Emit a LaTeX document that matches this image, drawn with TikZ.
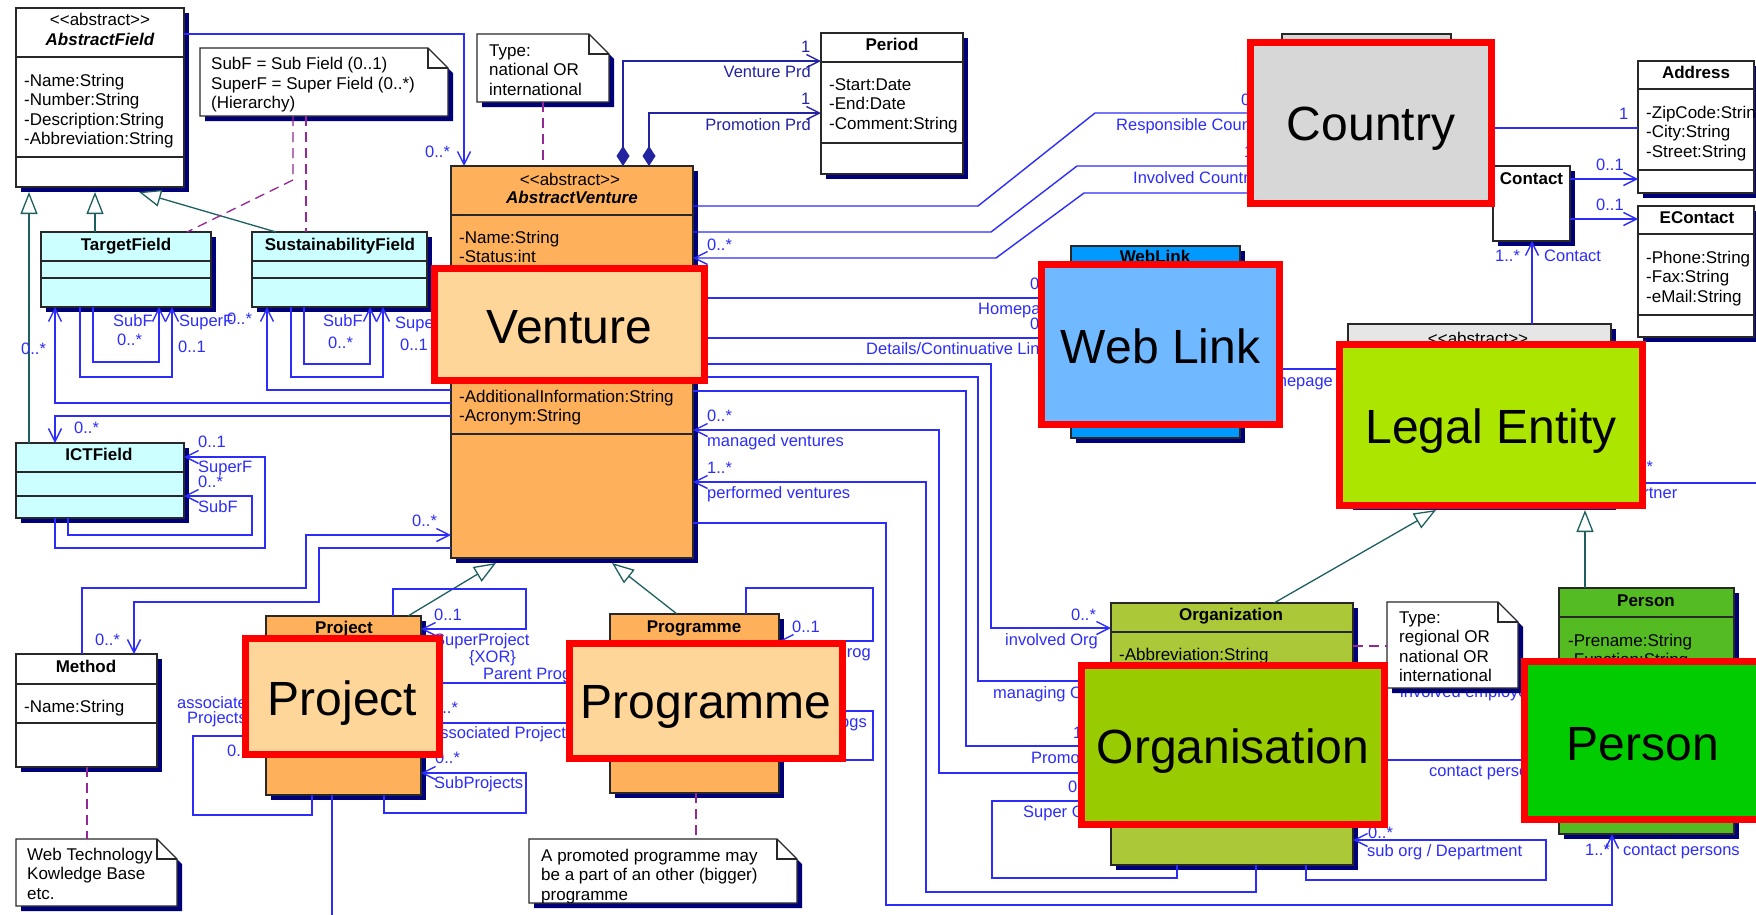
\documentclass[tikz,border=0pt]{standalone}
\usepackage{fontspec}
\setmainfont{Liberation Sans}
\usetikzlibrary{arrows.meta}
\definecolor{assoc}{RGB}{45,45,250}
\definecolor{assocd}{RGB}{35,35,160}
\definecolor{genc}{RGB}{30,95,95}
\definecolor{dep}{RGB}{150,40,150}
\definecolor{shad}{RGB}{0,0,120}
\definecolor{bline}{RGB}{40,40,40}
\definecolor{cyanf}{RGB}{204,255,255}
\definecolor{orangef}{RGB}{255,176,90}
\definecolor{venth}{RGB}{255,214,153}
\definecolor{orgf}{RGB}{170,200,55}
\definecolor{orgh}{RGB}{153,204,0}
\definecolor{persf}{RGB}{85,187,34}
\definecolor{persh}{RGB}{0,204,0}
\definecolor{legh}{RGB}{172,230,0}
\definecolor{legf}{RGB}{230,230,230}
\definecolor{webf}{RGB}{0,153,255}
\definecolor{webh}{RGB}{112,184,255}
\definecolor{ctryf}{RGB}{215,215,215}
\definecolor{hlred}{RGB}{255,0,0}
\tikzset{
 bx/.style={draw=bline, line width=1.2pt, inner sep=0pt, outer sep=0pt, anchor=north west},
 hl/.style={draw=hlred, line width=7pt, inner sep=0pt, outer sep=0pt, anchor=north west},
 cl/.style={draw=bline, line width=1.2pt},
 asc/.style={draw=assoc, line width=1.4pt},
 asd/.style={draw=assocd, line width=1.4pt},
 oa/.style={-{Straight Barb[length=13pt,width=13pt]}},
 dia/.style={{Diamond[length=20pt,width=13pt]}-{Straight Barb[length=13pt,width=13pt]}},
 gn/.style={draw=genc, line width=1.3pt, -{Triangle[length=22pt,width=17pt,fill=white]}},
 dp/.style={draw=dep, line width=1.3pt, dash pattern=on 10pt off 6pt},
 ttl/.style={font=\bfseries\fontsize{17}{20}\selectfont, anchor=base, inner sep=0pt},
 att/.style={font=\fontsize{17}{20}\selectfont, anchor=base west, inner sep=0pt},
 lb/.style={font=\fontsize{16.5}{19}\selectfont, text=assoc, anchor=base west, inner sep=0pt},
 lbr/.style={lb, anchor=base east},
 big/.style={font=\fontsize{48}{56}\selectfont, anchor=base, inner sep=0pt},
}
\newcommand\umlbox[6]{%
 \fill[shad] ({#2+5},{#3+5}) rectangle ({#4+5},{#5+5});
 \node[bx, fill=#6, minimum width={#4-#2}, minimum height={#5-#3}] (#1) at (#2,#3) {};
}
\newcommand\umlnote[5]{%
 \fill[shad] ({#2+5},{#3+5}) -- ({#4-15},{#3+5}) -- ({#4+5},{#3+25}) -- ({#4+5},{#5+5}) -- ({#2+5},{#5+5}) -- cycle;
 \draw[cl, fill=white] (#2,#3) -- ({#4-20},#3) -- (#4,{#3+20}) -- (#4,#5) -- (#2,#5) -- cycle;
 \draw[cl] ({#4-20},#3) -- ({#4-20},{#3+20}) -- (#4,{#3+20});
 \node[inner sep=0pt, outer sep=0pt, anchor=north west, minimum width={#4-#2}, minimum height={#5-#3}] (#1) at (#2,#3) {};
}
\newcommand\hlbox[8]{%
 \node[hl, fill=#6, minimum width={#4-#2-7}, minimum height={#5-#3-7}] (#1) at ({#2+3.5},{#3+3.5}) {};
 \node[big] at ({(#2+#4)/2},#8) {#7};
}
\newcommand\abstr{\textless\kern0pt\textless\kern0pt abstract\kern0pt\textgreater\kern0pt\textgreater}
\begin{document}
\begin{tikzpicture}[x=1pt,y=-1pt]
\useasboundingbox (0,0) rectangle (1756,914);
\fill[white] (0,0) rectangle (1756,914);

% ---------- UML boxes ----------
\umlbox{af}{16}{8}{184}{187}{white}
\draw[cl] (16,57) -- (184,57); \draw[cl] (16,157) -- (184,157);
\node[att, anchor=base] at (100,25) {\abstr};
\node[ttl, font=\bfseries\itshape\fontsize{17}{20}\selectfont] at (100,45) {AbstractField};
\node[att] at (24,86) {-Name:String};
\node[att] at (24,105.5) {-Number:String};
\node[att] at (24,125) {-Description:String};
\node[att] at (24,144.5) {-Abbreviation:String};

\umlbox{tf}{41}{232}{211}{307}{cyanf}
\draw[cl] (41,261) -- (211,261); \draw[cl] (41,278) -- (211,278);
\node[ttl] at (126,250) {TargetField};

\umlbox{sf}{252}{232}{427}{307}{cyanf}
\draw[cl] (252,261) -- (427,261); \draw[cl] (252,278) -- (427,278);
\node[ttl] at (340,250) {SustainabilityField};

\umlbox{ict}{16}{443}{184}{518}{cyanf}
\draw[cl] (16,472) -- (184,472); \draw[cl] (16,496) -- (184,496);
\node[ttl] at (99,460) {ICTField};

\umlbox{meth}{16}{654}{157}{767}{white}
\draw[cl] (16,684) -- (157,684); \draw[cl] (16,723) -- (157,723);
\node[ttl] at (86,672) {Method};
\node[att] at (24,712) {-Name:String};

\umlbox{av}{451}{166}{693}{558}{orangef}
\draw[cl] (451,215) -- (693,215); \draw[cl] (451,434) -- (693,434);
\node[att, anchor=base] at (570,185) {\abstr};
\node[ttl, font=\bfseries\itshape\fontsize{17}{20}\selectfont] at (572,203) {AbstractVenture};
\node[att] at (459,243) {-Name:String};
\node[att] at (459,262.5) {-Status:int};
\node[att] at (459,402) {-AdditionalInformation:String};
\node[att] at (459,421.5) {-Acronym:String};

\umlbox{per}{821}{33}{963}{174}{white}
\draw[cl] (821,62) -- (963,62); \draw[cl] (821,143) -- (963,143);
\node[ttl] at (892,50) {Period};
\node[att] at (829,90) {-Start:Date};
\node[att] at (829,109.5) {-End:Date};
\node[att] at (829,129) {-Comment:String};

\umlbox{ctry}{1282}{34}{1451}{202}{ctryf}

\umlbox{addr}{1638}{61}{1754}{193}{white}
\draw[cl] (1638,89) -- (1754,89); \draw[cl] (1638,170) -- (1754,170);
\node[ttl] at (1696,78) {Address};
\node[att] at (1646,118) {-ZipCode:String};
\node[att] at (1646,137.5) {-City:String};
\node[att] at (1646,157) {-Street:String};

\umlbox{cont}{1493}{166}{1570}{241}{white}
\node[ttl] at (1531.5,184) {Contact};

\umlbox{econ}{1638}{206}{1754}{337}{white}
\draw[cl] (1638,234) -- (1754,234); \draw[cl] (1638,315) -- (1754,315);
\node[ttl] at (1697,223) {EContact};
\node[att] at (1646,263) {-Phone:String};
\node[att] at (1646,282.5) {-Fax:String};
\node[att] at (1646,302) {-eMail:String};

\umlbox{wl}{1071}{246}{1240}{438}{webf}
\node[ttl] at (1155,262) {WebLink};

\umlbox{le}{1348}{324}{1611}{505}{legf}
\node[att, anchor=base] at (1478,344.5) {\abstr};

\umlbox{org}{1111}{603}{1353}{865}{orgf}
\draw[cl] (1111,632) -- (1353,632);
\node[ttl] at (1231,620) {Organization};
\node[att] at (1119,660) {-Abbreviation:String};

\umlbox{pers}{1559}{588}{1734}{834}{persf}
\draw[cl] (1559,617) -- (1734,617);
\node[ttl] at (1646,606) {Person};
\node[att] at (1568,646) {-Prename:String};
\node[att] at (1568,665.5) {-Function:String};

\umlbox{proj}{266}{616}{421}{795}{orangef}
\node[ttl] at (344,633) {Project};

\umlbox{prog}{610}{614}{779}{793}{orangef}
\node[ttl] at (694,632) {Programme};

% ---------- generalizations ----------
\draw[gn] (tf.north -| 95,0) -- (95,192);
\draw[gn] (ict.north -| 29,0) -- (29,192);
\draw[gn] (sf.north -| 276,0) -- (139,192);
\draw[gn] (proj.north -| 408,0) -- (496,563);
\draw[gn] (prog.north -| 677,0) -- (612,563);
\draw[gn] (org.north -| 1274,0) -- (1436,510);
\draw[gn] (pers.north -| 1585,0) -- (1585,510);

% ---------- associations ----------
\draw[asc,oa] (af.east |- 0,34) -| (av.north -| 464,0);
\draw[asc,oa] (av.west |- 0,390) -| (sf.south -| 267,0);
\draw[asc,oa] (av.west |- 0,403) -| (tf.south -| 55,0);
\draw[asc,oa] (av.west |- 0,416) -| (ict.north -| 55,0);
\draw[asc,oa] (tf.south -| 93,0) |- (159,362) -- (tf.south -| 159,0);
\draw[asc,oa] (tf.south -| 80,0) |- (172,377) -- (tf.south -| 172,0);
\draw[asc,oa] (sf.south -| 304,0) |- (370,364) -- (sf.south -| 370,0);
\draw[asc,oa] (sf.south -| 291,0) |- (383,377) -- (sf.south -| 383,0);
\draw[asc,oa] (ict.south -| 55,0) |- (265,548) |- (ict.east |- 0,457);
\draw[asc,oa] (ict.south -| 68,0) |- (252,535) |- (ict.east |- 0,496);
\draw[asc,oa] (meth.north -| 82,0) |- (306,588) |- (av.west |- 0,535);
\draw[asc,oa] (av.west |- 0,548) -| (319,602) -| (meth.north -| 134,0);
\draw[asd,dia] (av.north -| 623,0) |- (per.west |- 0,61);
\draw[asd,dia] (av.north -| 649,0) |- (per.west |- 0,113);
\draw[asc] (av.east |- 0,206) -- (978,206) -- (1095,113) -- (ctry.west |- 0,113);
\draw[asc] (av.east |- 0,232) -- (991,232) -- (1077,166) -- (ctry.west |- 0,166);
\draw[asc,oa] (ctry.west |- 0,193) -- (1084,193) -- (996,258) -- (av.east |- 0,258);
\draw[asc] (ctry.east |- 0,128) -- (addr.west |- 0,128);
\draw[asc,oa] (cont.east |- 0,179) -- (addr.west |- 0,179);
\draw[asc,oa] (cont.east |- 0,219) -- (econ.west |- 0,219);
\draw[asc,oa] (le.north -| 1532,0) -- (cont.south -| 1532,0);
\draw[asc] (av.east |- 0,298) -- (wl.west |- 0,298);
\draw[asc] (av.east |- 0,338) -- (wl.west |- 0,338);
\draw[asc] (wl.east |- 0,369) -- (le.west |- 0,369);
\coordinate (partnerEnd) at (1760,483);
\draw[asc] (le.east |- 0,483) -- (partnerEnd);
\draw[asc,oa] (av.east |- 0,364) -| (991,628) -- (org.west |- 0,628);
\draw[asc] (av.east |- 0,377) -| (978,681) -- (org.west |- 0,681);
\draw[asc] (av.east |- 0,391) -| (966,746) -- (org.west |- 0,746);
\draw[asc,oa] (org.west |- 0,773) -| (939,430) -- (av.east |- 0,430);
\draw[asc,oa] (org.south -| 1256,0) |- (926,892) |- (av.east |- 0,482);
\draw[asc,oa] (av.east |- 0,523) -| (886,905) -| (pers.south -| 1612,0);
\draw[asc] (org.west |- 0,801) -| (992,878) -| (org.south -| 1177,0);
\draw[asc,oa] (org.south -| 1306,0) |- (1546,880) |- (org.east |- 0,840);
\draw[asc] (org.east |- 0,760) -- (pers.west |- 0,760);
\draw[asc] (org.east |- 0,684) -- (pers.west |- 0,684);
\draw[asc,oa] (proj.north -| 393,0) |- (526,589) |- (proj.east |- 0,629);
\draw[asc] (proj.east |- 0,683) -- (prog.west |- 0,683);
\draw[asc] (proj.east |- 0,723) -- (prog.west |- 0,723);
\draw[asc,oa] (proj.south -| 384,0) |- (526,813) |- (proj.east |- 0,773);
\draw[asc] (proj.west |- 0,736) -| (193,815) -| (proj.south -| 312,0);
\coordinate (projDown) at (332,918);
\draw[asc] (proj.south -| 332,0) -- (projDown);
\draw[asc,oa] (prog.north -| 746,0) |- (873,588) |- (prog.east |- 0,641);
\draw[asc] (prog.east |- 0,711) -| (873,760) -- (prog.east |- 0,760);

% ---------- labels ----------
\node[lb] at (425,157) {0..*};
\node[lb] at (113,326) {SubF};
\node[lb] at (117,345) {0..*};
\node[lb] at (179,326) {SuperF};
\node[lb] at (178,352) {0..1};
\node[lb] at (227,324) {0..*};
\node[lb] at (21,354) {0..*};
\node[lb] at (323,326) {SubF};
\node[lb] at (328,348) {0..*};
\node[lb] at (395,328) {SuperF};
\node[lb] at (400,350) {0..1};
\node[lb] at (74,433) {0..*};
\node[lb] at (198,447) {0..1};
\node[lb] at (198,472) {SuperF};
\node[lb] at (198,487) {0..*};
\node[lb] at (198,512) {SubF};
\node[lb] at (95,645) {0..*};
\node[lb] at (412,526) {0..*};
\node[lb, text=assocd] at (801,52) {1};
\node[lbr, text=assocd] at (811,77) {Venture Prd};
\node[lb, text=assocd] at (801,104) {1};
\node[lbr, text=assocd] at (811,130) {Promotion Prd};
\node[lb] at (707,250) {0..*};
\node[lb] at (1241,105) {0..*};
\node[lb] at (1116,130) {Responsible Country};
\node[lb] at (1244,157) {1};
\node[lb] at (1133,183) {Involved Country};
\node[lb] at (1619,119) {1};
\node[lb] at (1596,170) {0..1};
\node[lb] at (1596,210) {0..1};
\node[lb] at (1495,261) {1..*};
\node[lb] at (1544,261) {Contact};
\node[lb] at (1030,289) {0..1};
\node[lb] at (978,314) {Homepage};
\node[lb] at (1030,329) {0..1};
\node[lb] at (866,354) {Details/Continuative Links};
\node[lb] at (1252,386) {Homepage};
\node[lb] at (707,421) {0..*};
\node[lb] at (707,446) {managed ventures};
\node[lb] at (707,473) {1..*};
\node[lb] at (707,498) {performed ventures};
\node[lb] at (1628,472) {0..*};
\node[lb] at (1623,498) {Partner};
\node[lb] at (1071,620) {0..*};
\node[lb] at (1005,645) {involved Org};
\node[lb] at (993,698) {managing Org};
\node[lb] at (1073,738) {1};
\node[lb] at (1031,763) {Promoter};
\node[lb] at (1068,792) {0..*};
\node[lb] at (1023,817) {Super Org};
\node[lb] at (1368,838) {0..*};
\node[lb] at (1367,856) {sub org / Department};
\node[lb] at (1429,776) {contact person};
\node[lb] at (1400,697) {involved employees};
\node[lb] at (1585,855) {1..*};
\node[lb] at (1623,855) {contact persons};
\node[lb] at (434,620) {0..1};
\node[lb] at (434,645) {SuperProject};
\node[lb] at (469,662) {\{XOR\}};
\node[lb] at (483,679) {Parent Programme};
\node[lb] at (433,713) {0..*};
\node[lb] at (431,738) {associated Projects};
\node[lb] at (435,763) {0..*};
\node[lb] at (434,788) {SubProjects};
\node[lb] at (177,708) {associated};
\node[lb] at (187,723) {Projects};
\node[lb] at (227,756) {0..*};
\node[lb] at (792,632) {0..1};
\node[lbr] at (871,657) {Super Prog};
\node[lbr] at (867,727) {Sub Progs};

% ---------- notes ----------
\umlnote{n1}{200}{48}{448}{116}
\node[att] at (211,69) {SubF = Sub Field (0..1)};
\node[att] at (211,89) {SuperF = Super Field (0..*)};
\node[att] at (211,108) {(Hierarchy)};
\umlnote{n2}{477}{34}{609}{102}
\node[att] at (489,56) {Type:};
\node[att] at (489,75.5) {national OR};
\node[att] at (489,95) {international};
\umlnote{n3}{16}{839}{177}{906}
\node[att] at (27,860) {Web Technology};
\node[att] at (27,879.5) {Kowledge Base};
\node[att] at (27,899) {etc.};
\umlnote{n4}{529}{839}{797}{903}
\begin{scope}
\clip (530,840) rectangle (796,902);
\node[att] at (541,861) {A promoted programme may};
\node[att] at (541,880.5) {be a part of an other (bigger)};
\node[att] at (541,900) {programme};
\end{scope}
\umlnote{n5}{1387}{602}{1518}{688}
\node[att] at (1399,623) {Type:};
\node[att] at (1399,642.5) {regional OR};
\node[att] at (1399,662) {national OR};
\node[att] at (1399,681.5) {international};

% ---------- note links ----------
\draw[dp] (n1.south -| 293,0) -- (293,180) -- (tf.north -| 187,0);
\draw[dp] (n1.south -| 306,0) -- (sf.north -| 306,0);
\draw[dp] (n2.south -| 543,0) -- (av.north -| 543,0);
\draw[dp] (meth.south -| 87,0) -- (n3.north -| 87,0);
\draw[dp] (prog.south -| 696,0) -- (n4.north -| 696,0);
\draw[dp] (org.east |- 0,646) -- (n5.west |- 0,646);

% ---------- highlight boxes ----------
\hlbox{vh}{431}{265}{708}{384}{venth}{Venture}{343}
\hlbox{ch}{1247}{39}{1495}{207}{ctryf}{Country}{140}
\hlbox{wh}{1038}{261}{1283}{428}{webh}{Web Link}{363}
\hlbox{lh}{1336}{341}{1646}{509}{legh}{Legal Entity}{443}
\hlbox{pjh}{242}{635}{443}{758}{venth}{Project}{715}
\hlbox{pgh}{566}{640}{846}{762}{venth}{Programme}{718}
\hlbox{oh}{1078}{662}{1388}{828}{orgh}{Organisation}{763}
\hlbox{ph}{1521}{658}{1765}{823}{persh}{Person}{760}
\end{tikzpicture}
\end{document}
